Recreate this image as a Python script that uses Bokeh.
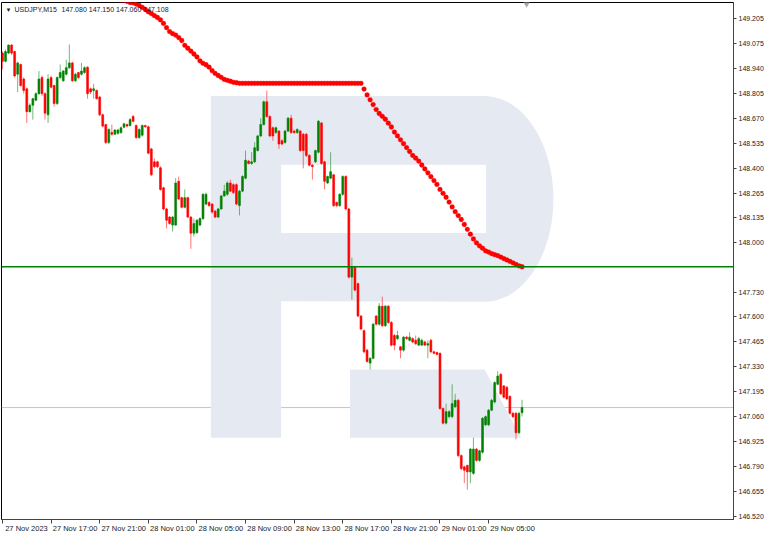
import math
from bokeh.plotting import figure
from bokeh.models import (Range1d, FixedTicker, Label, Span, LinearAxis,
                          ColumnDataSource, NumeralTickFormatter)
from bokeh.embed import file_html
from bokeh.resources import INLINE

# ---------------- data ----------------
symbol = "USDJPY,M15"
last_ohlc_text = "147.080 147.150 147.060 147.108"

time_tick_pos = [0, 16, 32, 48, 64, 80, 96, 112, 128, 144, 160]
time_tick_labels = ["27 Nov 2023", "27 Nov 17:00", "27 Nov 21:00", "28 Nov 01:00",
                    "28 Nov 05:00", "28 Nov 09:00", "28 Nov 13:00", "28 Nov 17:00",
                    "28 Nov 21:00", "29 Nov 01:00", "29 Nov 05:00"]

price_ticks = [146.520, 146.655, 146.790, 146.925, 147.060, 147.195, 147.330,
               147.465, 147.600, 147.730, 148.000, 148.135, 148.265, 148.400,
               148.535, 148.670, 148.805, 148.940, 149.075, 149.205]

level_price = 147.868
bid_price = 147.108

open_ = [
    149.021, 148.977, 149.021, 149.064, 149.029, 148.907, 148.959, 148.881, 148.828, 148.705,
    148.740, 148.767, 148.802, 148.889, 148.802, 148.688, 148.889, 148.846, 148.749, 148.889,
    148.872, 148.907, 148.942, 148.968, 148.872, 148.916, 148.907, 148.916, 148.945, 148.828,
    148.819, 148.819, 148.784, 148.688, 148.635, 148.539, 148.592, 148.583, 148.588, 148.592,
    148.621, 148.635, 148.630, 148.679, 148.630, 148.565, 148.578, 148.630, 148.623, 148.504,
    148.434, 148.434, 148.402, 148.294, 148.180, 148.136, 148.093, 148.093, 148.329, 148.241,
    148.189, 148.241, 148.136, 148.049, 148.052, 148.093, 148.128, 148.206, 148.215, 148.206,
    148.168, 148.136, 148.180, 148.250, 148.259, 148.320, 148.311, 148.311, 148.198, 148.276,
    148.346, 148.438, 148.425, 148.434, 148.495, 148.574, 148.635, 148.758, 148.679, 148.618,
    148.592, 148.600, 148.548, 148.539, 148.600, 148.670, 148.600, 148.592, 148.600, 148.583,
    148.583, 148.469, 148.416, 148.434, 148.486, 148.644, 148.434, 148.320, 148.346, 148.364,
    148.215, 148.198, 148.259, 148.355, 148.180, 147.812, 147.865, 147.777, 147.602, 147.523,
    147.418, 147.348, 147.374, 147.602, 147.558, 147.655, 147.550, 147.655, 147.567, 147.497,
    147.480, 147.436, 147.418, 147.488, 147.471, 147.480, 147.471, 147.445, 147.445, 147.462,
    147.445, 147.471, 147.409, 147.405, 147.401, 147.103, 147.024, 147.059, 147.059, 147.112,
    147.147, 146.849, 146.788, 146.796, 146.761, 146.753, 146.884, 146.823, 146.867, 147.015,
    147.015, 147.094, 147.138, 147.234, 147.287, 147.225, 147.217, 147.168, 147.077, 147.077,
    146.972, 147.080]

high_ = [
    149.030, 149.040, 149.068, 149.070, 149.035, 148.975, 148.965, 148.890, 148.835, 148.750,
    148.780, 148.810, 148.924, 148.900, 148.810, 148.907, 148.900, 148.850, 148.895, 148.959,
    148.930, 148.985, 149.068, 148.975, 148.915, 148.920, 148.968, 148.950, 148.950, 148.835,
    148.854, 148.825, 148.790, 148.695, 148.640, 148.615, 148.635, 148.610, 148.612, 148.625,
    148.645, 148.640, 148.670, 148.688, 148.635, 148.615, 148.635, 148.635, 148.630, 148.510,
    148.452, 148.440, 148.410, 148.300, 148.186, 148.142, 148.142, 148.346, 148.355, 148.246,
    148.285, 148.246, 148.142, 148.128, 148.125, 148.135, 148.265, 148.268, 148.222, 148.212,
    148.175, 148.186, 148.256, 148.310, 148.330, 148.338, 148.318, 148.318, 148.283, 148.362,
    148.495, 148.445, 148.487, 148.540, 148.580, 148.670, 148.765, 148.819, 148.685, 148.625,
    148.625, 148.605, 148.555, 148.607, 148.677, 148.688, 148.607, 148.615, 148.607, 148.590,
    148.590, 148.475, 148.422, 148.500, 148.660, 148.650, 148.440, 148.360, 148.486, 148.370,
    148.220, 148.265, 148.362, 148.362, 148.186, 147.917, 147.870, 147.782, 147.607, 147.530,
    147.425, 147.380, 147.565, 147.607, 147.672, 147.707, 147.662, 147.662, 147.575, 147.505,
    147.523, 147.440, 147.495, 147.495, 147.515, 147.487, 147.497, 147.490, 147.480, 147.470,
    147.470, 147.480, 147.415, 147.410, 147.405, 147.110, 147.129, 147.094, 147.234, 147.182,
    147.155, 146.855, 146.795, 146.800, 146.890, 146.945, 146.890, 146.880, 147.057, 147.065,
    147.100, 147.155, 147.250, 147.304, 147.295, 147.230, 147.225, 147.175, 147.085, 147.085,
    147.085, 147.150]

low_ = [
    148.933, 148.970, 149.015, 149.010, 148.890, 148.811, 148.840, 148.802, 148.644, 148.700,
    148.662, 148.760, 148.795, 148.790, 148.662, 148.644, 148.830, 148.732, 148.740, 148.880,
    148.865, 148.900, 148.935, 148.865, 148.865, 148.880, 148.900, 148.910, 148.775, 148.800,
    148.775, 148.770, 148.680, 148.620, 148.530, 148.530, 148.575, 148.578, 148.580, 148.585,
    148.615, 148.620, 148.625, 148.645, 148.558, 148.558, 148.570, 148.618, 148.475, 148.357,
    148.400, 148.400, 148.278, 148.172, 148.075, 148.095, 148.058, 148.088, 148.227, 148.183,
    148.183, 148.130, 147.965, 148.031, 148.045, 148.085, 148.120, 148.200, 148.190, 148.155,
    148.130, 148.130, 148.175, 148.245, 148.250, 148.270, 148.260, 148.200, 148.145, 148.270,
    148.340, 148.420, 148.418, 148.428, 148.490, 148.568, 148.630, 148.672, 148.567, 148.548,
    148.585, 148.504, 148.524, 148.532, 148.595, 148.585, 148.585, 148.585, 148.488, 148.399,
    148.460, 148.410, 148.338, 148.428, 148.480, 148.418, 148.285, 148.315, 148.340, 148.190,
    148.190, 148.190, 148.250, 148.172, 147.805, 147.690, 147.735, 147.595, 147.525, 147.400,
    147.350, 147.313, 147.368, 147.550, 147.550, 147.543, 147.543, 147.560, 147.438, 147.418,
    147.473, 147.374, 147.410, 147.473, 147.465, 147.455, 147.445, 147.440, 147.440, 147.440,
    147.374, 147.400, 147.395, 147.390, 147.095, 147.017, 147.017, 147.050, 147.050, 147.105,
    146.840, 146.770, 146.700, 146.665, 146.700, 146.745, 146.815, 146.815, 146.860, 147.008,
    147.008, 147.088, 147.130, 147.228, 147.175, 147.157, 147.148, 147.070, 147.052, 146.937,
    146.965, 147.060]

close_ = [
    148.977, 149.029, 149.064, 149.021, 148.898, 148.968, 148.846, 148.819, 148.705, 148.740,
    148.775, 148.802, 148.881, 148.802, 148.697, 148.881, 148.837, 148.749, 148.889, 148.916,
    148.924, 148.942, 148.968, 148.872, 148.907, 148.889, 148.924, 148.942, 148.802, 148.811,
    148.828, 148.775, 148.688, 148.627, 148.539, 148.609, 148.583, 148.606, 148.606, 148.618,
    148.639, 148.627, 148.662, 148.653, 148.565, 148.609, 148.630, 148.623, 148.481, 148.364,
    148.408, 148.408, 148.285, 148.180, 148.119, 148.101, 148.136, 148.320, 148.233, 148.189,
    148.241, 148.136, 148.049, 148.101, 148.119, 148.128, 148.259, 148.259, 148.198, 148.163,
    148.136, 148.180, 148.250, 148.276, 148.320, 148.276, 148.268, 148.206, 148.276, 148.355,
    148.443, 148.425, 148.434, 148.510, 148.574, 148.635, 148.758, 148.679, 148.574, 148.574,
    148.618, 148.530, 148.530, 148.600, 148.670, 148.592, 148.592, 148.609, 148.495, 148.495,
    148.469, 148.416, 148.408, 148.495, 148.653, 148.425, 148.329, 148.355, 148.381, 148.198,
    148.198, 148.259, 148.355, 148.180, 147.812, 147.870, 147.742, 147.602, 147.532, 147.409,
    147.357, 147.374, 147.558, 147.558, 147.655, 147.550, 147.655, 147.567, 147.445, 147.445,
    147.497, 147.418, 147.488, 147.480, 147.488, 147.462, 147.453, 147.480, 147.471, 147.445,
    147.453, 147.409, 147.401, 147.395, 147.103, 147.024, 147.086, 147.086, 147.129, 147.147,
    146.849, 146.779, 146.770, 146.761, 146.884, 146.884, 146.823, 146.875, 147.050, 147.059,
    147.094, 147.147, 147.243, 147.278, 147.182, 147.164, 147.155, 147.077, 147.059, 146.972,
    147.077, 147.108]

# indicator dots (one per bar, starting at bar 38)
dot_start = 38
dot_values = [
    149.310, 149.307, 149.305, 149.300, 149.294, 149.292, 149.286, 149.278, 149.268, 149.257,
    149.244, 149.234, 149.223, 149.213, 149.200, 149.181, 149.158, 149.137, 149.126, 149.118,
    149.105, 149.089, 149.063, 149.047, 149.032, 149.016, 149.000, 148.979, 148.966, 148.958,
    148.945, 148.926, 148.911, 148.900, 148.890, 148.879, 148.874, 148.869, 148.863, 148.861,
    148.858, 148.858, 148.858, 148.858, 148.858, 148.858, 148.858, 148.858, 148.858, 148.858,
    148.858, 148.858, 148.858, 148.858, 148.858, 148.858, 148.858, 148.858, 148.858, 148.858,
    148.858, 148.858, 148.858, 148.858, 148.858, 148.858, 148.858, 148.858, 148.858, 148.858,
    148.858, 148.858, 148.858, 148.858, 148.858, 148.858, 148.858, 148.858, 148.858, 148.858,
    148.858,
    148.827, 148.795, 148.769, 148.743, 148.716, 148.695, 148.680, 148.664, 148.643, 148.622,
    148.595, 148.574, 148.553, 148.532, 148.511, 148.490, 148.469, 148.454, 148.438, 148.417,
    148.396, 148.375, 148.354, 148.333, 148.312, 148.285, 148.264, 148.243, 148.217, 148.191,
    148.165, 148.144, 148.123, 148.096, 148.070, 148.044, 148.018, 147.997, 147.981, 147.968,
    147.954, 147.947, 147.939, 147.933, 147.928, 147.920, 147.912, 147.905, 147.897, 147.889,
    147.881, 147.873, 147.868]

# ---------------- figure ----------------
FONT = "Liberation Sans"
TXT = "#1a1a1a"
GREEN = "#008000"
RED = "#ff0000"

X0, X1 = -0.32, 240.6
Y0, Y1 = 146.504, 149.294

p = figure(width=766, height=535, output_backend="svg", toolbar_location=None,
           x_range=Range1d(X0, X1), y_range=Range1d(Y0, Y1),
           x_axis_location=None, y_axis_location=None,
           min_border_left=1, min_border_top=2, min_border_right=0, min_border_bottom=0)
p.background_fill_color = "white"
p.border_fill_color = "white"
p.outline_line_color = "black"
p.outline_line_width = 1

# right price axis
yax = LinearAxis(ticker=FixedTicker(ticks=price_ticks),
                 formatter=NumeralTickFormatter(format="0.000"))
yax.major_tick_out = 3
yax.major_tick_in = 0
yax.minor_tick_line_color = None
yax.major_label_standoff = 2
yax.axis_line_color = "#444444"
yax.major_tick_line_color = "#444444"
yax.major_label_text_font = FONT
yax.major_label_text_font_size = "7px"
yax.major_label_text_color = TXT
p.add_layout(yax, "right")

# bottom time axis: tick marks at the bar times ...
xax = LinearAxis(ticker=FixedTicker(ticks=time_tick_pos),
                 major_label_overrides={t: "" for t in time_tick_pos})
xax.major_tick_out = 4
xax.major_tick_in = 0
xax.minor_tick_line_color = None
xax.major_label_standoff = 0
xax.axis_line_color = "#444444"
xax.major_tick_line_color = "#444444"
xax.major_label_text_font_size = "1px"
p.add_layout(xax, "below")

# ... and the texts, left-aligned to the right of each tick (MT4 style)
LABEL_SHIFT = 7.9  # half a label width, in bars
label_pos = [t + LABEL_SHIFT for t in time_tick_pos]
xlab = LinearAxis(ticker=FixedTicker(ticks=label_pos),
                  major_label_overrides={c: l for c, l in zip(label_pos, time_tick_labels)})
xlab.axis_line_color = None
xlab.major_tick_line_color = None
xlab.minor_tick_line_color = None
xlab.major_tick_out = 0
xlab.major_tick_in = 0
xlab.major_label_standoff = 0
xlab.major_label_text_font = FONT
xlab.major_label_text_font_size = "7.5px"
xlab.major_label_text_color = TXT
p.add_layout(xlab, "below")

p.xgrid.visible = False
p.ygrid.visible = False

# ---- watermark logo (positions as fractions of the plot frame) ----
def fx(f):
    return X0 + f * (X1 - X0)

def fy(f):
    return Y1 - f * (Y1 - Y0)

LOGO = "#e5eaf2"
outer_x = [0.286, 0.660]
outer_y = [0.181, 0.181]
for k in range(0, 37):
    a = -math.pi / 2 + math.pi * k / 36
    outer_x.append(0.660 + 0.094 * math.cos(a))
    outer_y.append(0.380 + 0.199 * math.sin(a))
outer_x += [0.382, 0.382, 0.286]
outer_y += [0.578, 0.842, 0.842]
p.patch([fx(v) for v in outer_x], [fy(v) for v in outer_y],
        fill_color=LOGO, line_color=None)
p.quad(left=fx(0.382), right=fx(0.662), top=fy(0.314), bottom=fy(0.446),
       fill_color="white", line_color=None)
leg_x = [0.476, 0.660, 0.710, 0.476]
leg_y = [0.710, 0.710, 0.842, 0.842]
p.patch([fx(v) for v in leg_x], [fy(v) for v in leg_y],
        fill_color=LOGO, line_color=None)

# current bid line
p.add_layout(Span(location=bid_price, dimension="width", line_color="#c4c4c4",
                  line_width=1, level="underlay"))

# ---- candles ----
idx = list(range(len(close_)))
colors = [GREEN if c >= o else RED for o, c in zip(open_, close_)]
src = ColumnDataSource(dict(
    x=idx, o=open_, h=high_, l=low_, c=close_, color=colors,
    top=[max(o, c) for o, c in zip(open_, close_)],
    bot=[min(o, c) for o, c in zip(open_, close_)]))
p.segment(x0="x", y0="l", x1="x", y1="h", line_color="color", line_width=1,
          line_alpha=0.55, source=src)
p.vbar(x="x", width=0.62, top="top", bottom="bot", fill_color="color",
       line_color="color", line_width=0.6, source=src)

# level line
p.add_layout(Span(location=level_price, dimension="width", line_color=GREEN,
                  line_width=1.4))

# indicator dots
dot_x = list(range(dot_start, dot_start + len(dot_values)))
p.scatter(dot_x, dot_values, size=4.8, fill_color=RED, line_color=RED,
          line_width=0.3)

# chart-shift marker
p.scatter([len(close_) + 0.5], [Y1], marker="inverted_triangle", size=9,
          fill_color="#a8a8a8", line_color=None)

# ---- texts ----
p.add_layout(Label(x=X0, y=Y1, x_offset=4, y_offset=-4, text="\u25bc",
                   text_font=FONT, text_font_size="6px", text_color=TXT,
                   text_baseline="top"))
p.add_layout(Label(x=X0, y=Y1, x_offset=13, y_offset=-3, text=symbol,
                   text_font=FONT, text_font_size="7px", text_color=TXT,
                   text_baseline="top"))
p.add_layout(Label(x=X0, y=Y1, x_offset=60, y_offset=-3, text=last_ohlc_text,
                   text_font=FONT, text_font_size="7px", text_color=TXT,
                   text_baseline="top"))

# price tags on the axis
p.add_layout(Label(x=X1, y=level_price, x_offset=2, text="147.868",
                   text_font=FONT, text_font_size="7px", text_color="white",
                   text_baseline="middle", background_fill_color=GREEN,
                   padding=2))
p.add_layout(Label(x=X1, y=bid_price, x_offset=2, text="147.108",
                   text_font=FONT, text_font_size="7px", text_color="white",
                   text_baseline="middle", background_fill_color="black",
                   padding=2))

open("out.html", "w").write(file_html(p, INLINE))
